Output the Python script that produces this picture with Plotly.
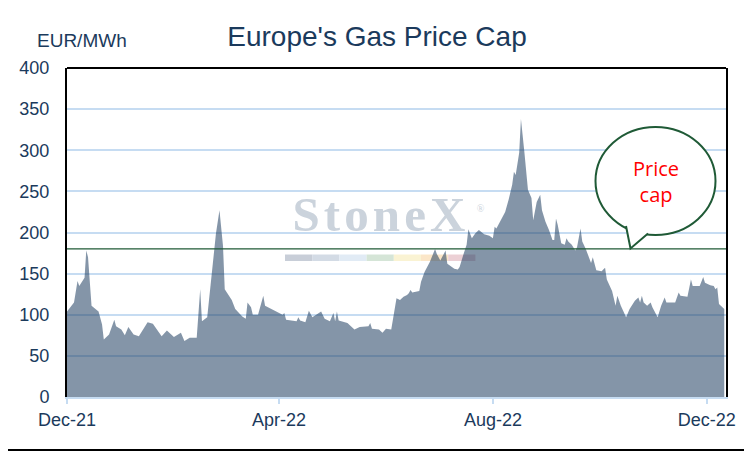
import plotly.graph_objects as go

# Europe's gas price (EUR/MWh)
dates = [
    "2021-12-10", "2021-12-14", "2021-12-16", "2021-12-17", "2021-12-20", "2021-12-21",
    "2021-12-22", "2021-12-24", "2021-12-28", "2021-12-30", "2021-12-31", "2022-01-03",
    "2022-01-06", "2022-01-07", "2022-01-10", "2022-01-12", "2022-01-14", "2022-01-17",
    "2022-01-20", "2022-01-25", "2022-01-28", "2022-02-02", "2022-02-05", "2022-02-09",
    "2022-02-13", "2022-02-15", "2022-02-18", "2022-02-22", "2022-02-24", "2022-02-25",
    "2022-02-28", "2022-03-03", "2022-03-05", "2022-03-07", "2022-03-09", "2022-03-10",
    "2022-03-14", "2022-03-16", "2022-03-20", "2022-03-22", "2022-03-23", "2022-03-25",
    "2022-03-26", "2022-03-29", "2022-04-01", "2022-04-02", "2022-04-06", "2022-04-12",
    "2022-04-13", "2022-04-14", "2022-04-20", "2022-04-21", "2022-04-22", "2022-04-25",
    "2022-04-27", "2022-04-29", "2022-05-04", "2022-05-06", "2022-05-09", "2022-05-11",
    "2022-05-12", "2022-05-13", "2022-05-14", "2022-05-19", "2022-05-23", "2022-05-26",
    "2022-05-31", "2022-06-01", "2022-06-02", "2022-06-06", "2022-06-08", "2022-06-10",
    "2022-06-13", "2022-06-14", "2022-06-16", "2022-06-18", "2022-06-20", "2022-06-22",
    "2022-06-23", "2022-06-24", "2022-06-25", "2022-06-29", "2022-06-30", "2022-07-02",
    "2022-07-05", "2022-07-08", "2022-07-09", "2022-07-11", "2022-07-12", "2022-07-14",
    "2022-07-15", "2022-07-19", "2022-07-21", "2022-07-22", "2022-07-24", "2022-07-26",
    "2022-07-27", "2022-07-29", "2022-07-31", "2022-08-02", "2022-08-05", "2022-08-08",
    "2022-08-10", "2022-08-11", "2022-08-12", "2022-08-14", "2022-08-17", "2022-08-19",
    "2022-08-21", "2022-08-22", "2022-08-23", "2022-08-25", "2022-08-26", "2022-08-28",
    "2022-08-30", "2022-09-01", "2022-09-02", "2022-09-04", "2022-09-06", "2022-09-07",
    "2022-09-09", "2022-09-11", "2022-09-13", "2022-09-14", "2022-09-15", "2022-09-16",
    "2022-09-18", "2022-09-20", "2022-09-21", "2022-09-22", "2022-09-24", "2022-09-26",
    "2022-09-27", "2022-09-29", "2022-09-30", "2022-10-02", "2022-10-03", "2022-10-05",
    "2022-10-06", "2022-10-08", "2022-10-11", "2022-10-13", "2022-10-14", "2022-10-17",
    "2022-10-19", "2022-10-20", "2022-10-22", "2022-10-25", "2022-10-27", "2022-10-30",
    "2022-11-01", "2022-11-02", "2022-11-03", "2022-11-04", "2022-11-06", "2022-11-08",
    "2022-11-09", "2022-11-12", "2022-11-14", "2022-11-16", "2022-11-17", "2022-11-19",
    "2022-11-22", "2022-11-24", "2022-11-25", "2022-11-29", "2022-11-30", "2022-12-01",
    "2022-12-02", "2022-12-06", "2022-12-08", "2022-12-09", "2022-12-12", "2022-12-14",
    "2022-12-15", "2022-12-16", "2022-12-17", "2022-12-19", "2022-12-20",
]
prices = [
    104, 115, 141, 135, 145, 178,
    170, 111, 104, 88, 70, 76,
    94, 86, 82, 75, 85, 76,
    74, 91, 89, 74, 81, 73,
    78, 68, 72, 72, 131, 92,
    97, 162, 199, 227, 184, 131,
    118, 107, 98, 95, 115, 109,
    100, 100, 123, 111, 107, 100,
    102, 94, 92, 97, 93, 91,
    105, 97, 104, 95, 92, 102,
    92, 104, 93, 90, 82, 85,
    86, 90, 83, 82, 78, 83,
    82, 94, 120, 118, 122, 124,
    126, 130, 127, 129, 140, 152,
    164, 180, 174, 166, 170, 178,
    162, 156, 155, 158, 172, 185,
    204, 193, 199, 203, 198, 196,
    193, 207, 205, 213, 225, 240,
    258, 274, 270, 297, 338, 297,
    252, 242, 215, 237, 246, 227,
    213, 203, 191, 191, 217, 209,
    187, 185, 193, 189, 185, 178,
    182, 205, 189, 180, 174, 163,
    170, 154, 153, 157, 143, 129,
    111, 123, 111, 97, 107, 117,
    121, 115, 123, 115, 111, 115,
    109, 97, 111, 121, 115, 115,
    115, 127, 123, 122, 131, 143,
    135, 135, 146, 139, 136, 135,
    131, 133, 113, 109, 107,
]
price_cap = 180

x_range = ["2021-12-10", "2022-12-21"]
tick_dates = ["2021-12-10", "2022-04-10", "2022-08-10", "2022-12-10"]
tick_labels = ["Dec-21", "Apr-22", "Aug-22", "Dec-22"]

# the page body has an 8px margin, so the figure is drawn 8px in from the corner
OFF = 8
W, H = 752 - OFF, 452 - OFF
L, R, T, B = 67 - OFF, 26, 68 - OFF, 55
pw, ph = W - L - R, H - T - B

NAVY = "#1b3a5c"
GRID = "#c6dcf2"
GREEN = "#1f5a36"


def px(x):
    # page pixel column -> paper x
    return (x - OFF - L) / pw


def py(y):
    # page pixel row -> paper y
    return (H - B - (y - OFF)) / ph


fig = go.Figure()

# watermark, drawn first so the area sits over it
fig.add_trace(go.Scatter(
    x=["2022-06-06"], y=[217], mode="text",
    text=["<b>S\u200at\u200ao\u200an\u200ae\u200aX</b>"],
    textfont=dict(family="Liberation Serif", size=49, color="#cbd3dc"),
    textposition="middle center", hoverinfo="skip", showlegend=False,
))
fig.add_trace(go.Scatter(
    x=["2022-08-03"], y=[228], mode="text", text=["\u00ae"],
    textfont=dict(family="Liberation Serif", size=10, color="#cbd3dc"),
    textposition="middle center", hoverinfo="skip", showlegend=False,
))

fig.add_trace(go.Scatter(
    x=dates, y=prices, mode="lines", fill="tozeroy",
    line=dict(width=0, color="rgba(27,60,94,0.54)"),
    fillcolor="rgba(27,60,94,0.54)", showlegend=False,
))

fig.add_trace(go.Scatter(
    x=x_range, y=[price_cap, price_cap], mode="lines",
    line=dict(color=GREEN, width=1.2), showlegend=False,
))

shapes = []

# coloured strip under the watermark
strip = ["#c8ced8", "#d3dbe5", "#e1ebf5", "#d5e5d7", "#faf3d3", "#fbe6c8", "#ecd0d5"]
for i, c in enumerate(strip):
    shapes.append(dict(type="rect", xref="paper", yref="paper", layer="below",
                       x0=px(285 + i * 27.2), x1=px(285 + (i + 1) * 27.2),
                       y0=py(261), y1=py(254.5), line=dict(width=0), fillcolor=c))

# speech bubble
shapes.append(dict(type="circle", xref="paper", yref="paper",
                   x0=px(595.5), x1=px(715.5), y0=py(235), y1=py(127),
                   line=dict(color=GREEN, width=2), fillcolor="white"))
shapes.append(dict(type="path", xref="paper", yref="paper",
                   path=f"M {px(626)},{py(226)} L {px(630.5)},{py(248.5)} L {px(648)},{py(233.5)}",
                   line=dict(color=GREEN, width=2), fillcolor="white"))

# top border of plot area and frame around the whole chart
shapes.append(dict(type="line", xref="paper", yref="paper", x0=0, x1=1, y0=1, y1=1,
                   line=dict(color="black", width=2)))
shapes.append(dict(type="rect", xref="paper", yref="paper",
                   x0=px(1), x1=px(750), y0=py(450), y1=py(1),
                   line=dict(color="black", width=2)))

annotations = [
    dict(text="EUR/MWh", xref="paper", yref="paper", x=px(82), y=py(41),
         xanchor="center", yanchor="middle", showarrow=False,
         font=dict(family="Liberation Sans", size=19, color=NAVY)),
    dict(text="Price<br>cap", xref="paper", yref="paper", x=px(656), y=py(181),
         xanchor="center", yanchor="middle", showarrow=False, align="center",
         font=dict(family="Open Sans", size=20, color="#ff0000")),
]

fig.update_layout(
    width=W, height=H, autosize=False,
    margin=dict(l=L, r=R, t=T, b=B),
    paper_bgcolor="white", plot_bgcolor="white",
    title=dict(text="Europe's Gas Price Cap", x=(377 - OFF) / W, xanchor="center",
               y=1 - (36 - OFF) / H, yanchor="middle",
               font=dict(family="Liberation Sans", size=28, color=NAVY)),
    shapes=shapes, annotations=annotations,
    font=dict(family="Liberation Sans", size=18, color=NAVY),
    hovermode=False,
)

fig.update_xaxes(
    type="date", range=x_range, tickvals=tick_dates, ticktext=tick_labels,
    showgrid=False, showline=True, linecolor=GRID, linewidth=2,
    ticks="outside", ticklen=5, tickwidth=2, tickcolor=GRID,
    tickfont=dict(size=18, color=NAVY), zeroline=False,
)
fig.update_yaxes(
    range=[0, 400], dtick=50, showgrid=True, gridcolor=GRID, gridwidth=1.5,
    showline=True, linecolor="black", linewidth=2, mirror=True,
    ticks="", ticklabelstandoff=12, zeroline=False,
    tickfont=dict(size=18, color=NAVY),
)

fig.write_html("out.html")
